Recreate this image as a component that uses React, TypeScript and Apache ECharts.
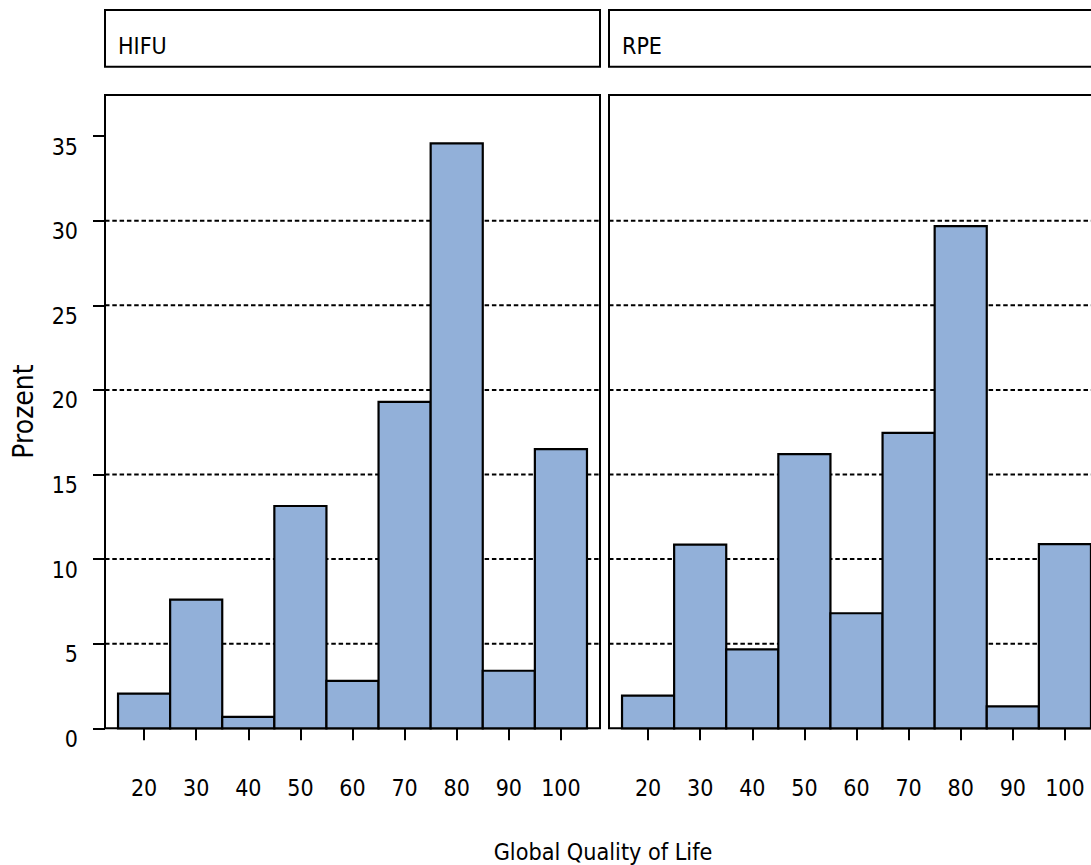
import React, { useEffect, useRef } from "react";
import * as echarts from "echarts";

const categories = [20, 30, 40, 50, 60, 70, 80, 90, 100];
const hifuValues = [2.05, 7.61, 0.67, 13.14, 2.8, 19.29, 34.57, 3.4, 16.5];
const rpeValues = [1.93, 10.85, 4.67, 16.2, 6.8, 17.46, 29.68, 1.29, 10.88];
const yTicks = [0, 5, 10, 15, 20, 25, 30, 35];
const gridValues = [5, 10, 15, 20, 25, 30];
const panels = ["HIFU", "RPE"];
const binWidth = 10;

const NARROW = "'DejaVu Sans Condensed', 'Liberation Sans Narrow', 'Arial Narrow', 'Liberation Sans', sans-serif";
const FILL = "#92B0D9";

export default function App() {
  const ref = useRef<HTMLDivElement>(null);
  useEffect(() => {
    document.body.style.margin = "0";
    document.body.style.overflow = "hidden";
    const chart = echarts.init(ref.current!, null, { renderer: "svg" });
    const panelLefts = [105, 609];
    const panelWidth = 495;
    const top = 95;
    const height = 633.3;
    const xMin = 12.5;
    const xMax = 107.5;
    const yMax = 37.43;
    const seriesData = [hifuValues, rpeValues];

    const grid = panelLefts.map((l) => ({
      left: l,
      top,
      width: panelWidth,
      height,
      show: true,
      borderColor: "#000",
      borderWidth: 2,
      backgroundColor: "transparent",
      containLabel: false,
    }));

    const xAxis = panelLefts.map((_, i) => ({
      type: "value",
      gridIndex: i,
      min: xMin,
      max: xMax,
      offset: 2,
      axisLine: { show: false },
      splitLine: { show: false },
      axisTick: {
        show: true,
        length: 12,
        customValues: categories,
        lineStyle: { color: "#000", width: 2 },
      },
      axisLabel: {
        show: true,
        customValues: categories,
        margin: 58,
        verticalAlign: "middle",
        color: "#000",
        fontFamily: NARROW,
        fontSize: 23,
      },
    }));

    const yAxis = panelLefts.map((_, i) => ({
      type: "value",
      gridIndex: i,
      min: 0,
      max: yMax,
      axisLine: { show: false },
      splitLine: { show: false },
      axisTick: {
        show: i === 0,
        length: 12,
        customValues: yTicks,
        lineStyle: { color: "#000", width: 2 },
      },
      axisLabel: {
        show: i === 0,
        customValues: yTicks,
        margin: 27,
        verticalAlign: "top",
        lineHeight: 21,
        color: "#000",
        fontFamily: NARROW,
        fontSize: 23,
      },
    }));

    const series: any[] = [];
    panelLefts.forEach((_, i) => {
      series.push({
        type: "custom",
        xAxisIndex: i,
        yAxisIndex: i,
        z: 2,
        clip: false,
        silent: true,
        data: gridValues.map((v) => [xMin, v]),
        renderItem: (params: any, api: any) => {
          const cs = params.coordSys;
          const y = api.coord([api.value(0), api.value(1)])[1];
          return {
            type: "line",
            shape: { x1: cs.x, y1: y, x2: cs.x + cs.width, y2: y },
            style: { stroke: "#000", lineWidth: 2, lineDash: [4.5, 2.8] },
          };
        },
      });
      series.push({
        type: "custom",
        xAxisIndex: i,
        yAxisIndex: i,
        z: 3,
        clip: false,
        silent: true,
        data: categories.map((c, k) => [c, seriesData[i][k]]),
        renderItem: (params: any, api: any) => {
          const c = api.value(0);
          const v = api.value(1);
          const p0 = api.coord([c - binWidth / 2, v]);
          const p1 = api.coord([c + binWidth / 2, 0]);
          return {
            type: "rect",
            shape: { x: p0[0], y: p0[1], width: p1[0] - p0[0], height: p1[1] - p0[1] },
            style: { fill: FILL, stroke: "#000", lineWidth: 2.2 },
          };
        },
      });
    });

    const graphic: any[] = [];
    panelLefts.forEach((l, i) => {
      graphic.push({
        type: "rect",
        shape: { x: l, y: 10, width: panelWidth, height: 56.7 },
        style: { fill: "#fff", stroke: "#000", lineWidth: 2 },
      });
      graphic.push({
        type: "text",
        x: l + 13,
        y: 46,
        style: {
          text: panels[i],
          fill: "#000",
          fontSize: 23,
          fontFamily: NARROW,
          align: "left",
          verticalAlign: "middle",
        },
      });
    });
    graphic.push({
      type: "text",
      x: 603,
      y: 851,
      style: {
        text: "Global Quality of Life",
        fill: "#000",
        fontSize: 23.2,
        fontFamily: NARROW,
        align: "center",
        verticalAlign: "middle",
      },
    });
    graphic.push({
      type: "text",
      x: 23,
      y: 411.5,
      rotation: Math.PI / 2,
      style: {
        text: "Prozent",
        fill: "#000",
        fontSize: 28,
        fontFamily: NARROW,
        align: "center",
        verticalAlign: "middle",
      },
    });

    chart.setOption({
      animation: false,
      backgroundColor: "#fff",
      grid,
      xAxis,
      yAxis,
      series,
      graphic,
    });
    return () => chart.dispose();
  }, []);
  return (
    <div style={{ width: 1091, height: 865, overflow: "hidden" }}>
      <div ref={ref} style={{ width: 1120, height: 865 }} />
    </div>
  );
}
